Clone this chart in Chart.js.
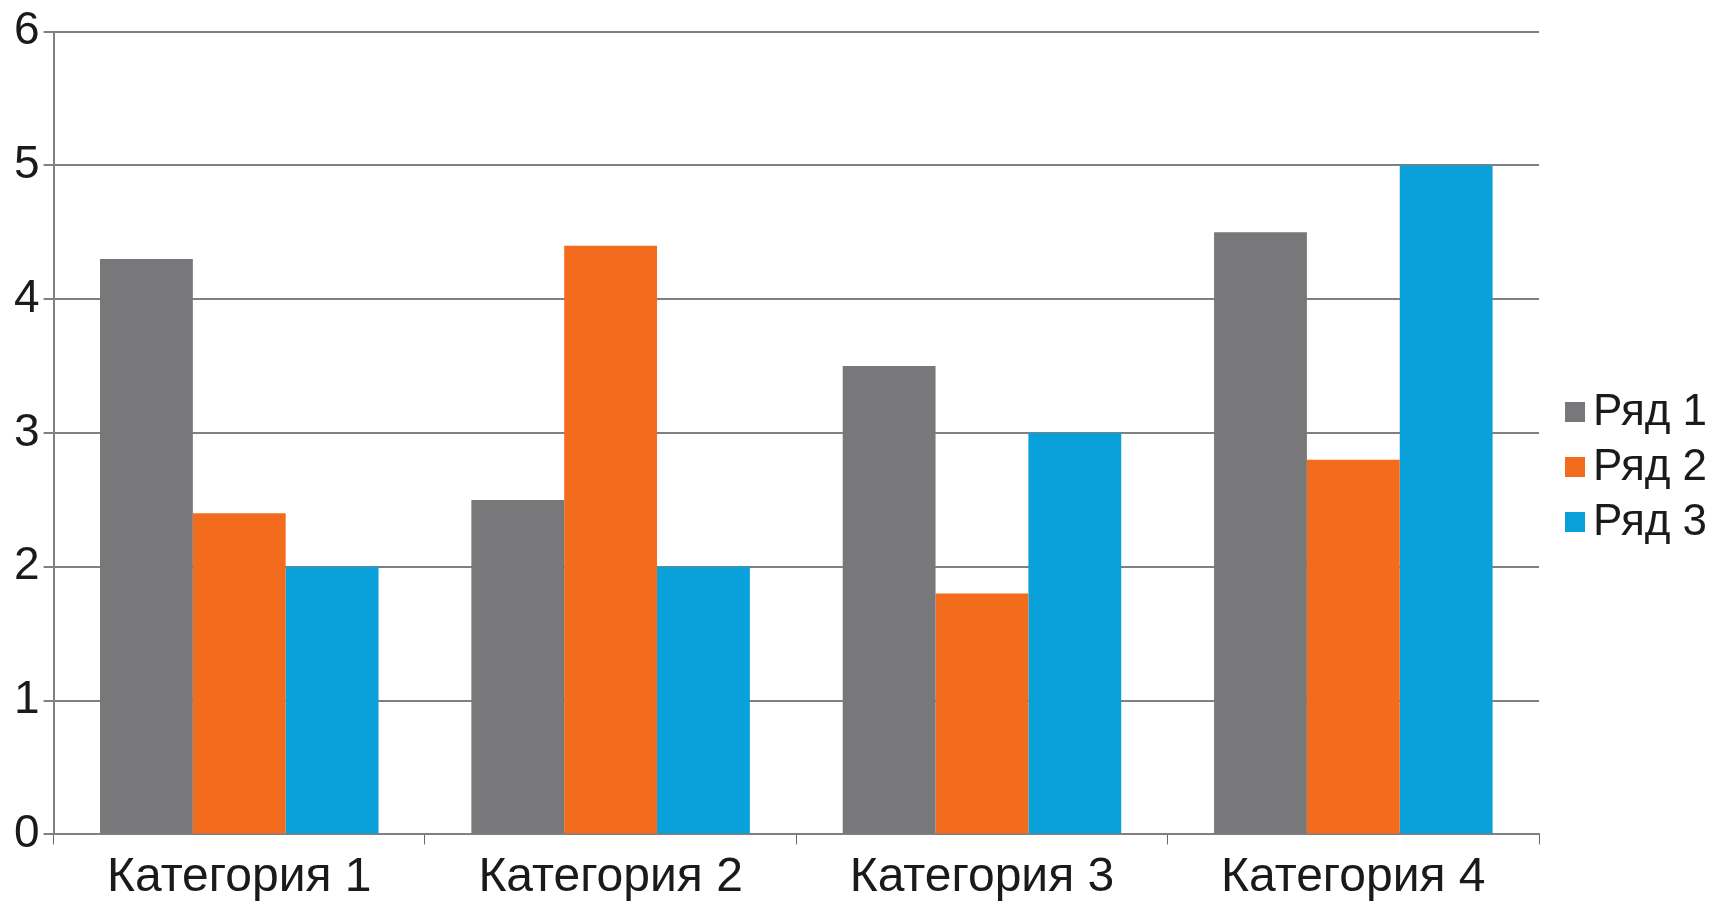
<!DOCTYPE html>
<html lang="ru">
<head>
    <meta charset="UTF-8">
    <title>Ряды по категориям</title>
    <script src="https://cdn.jsdelivr.net/npm/chart.js"></script>
    <style>
        html, body {
            margin: 0;
            padding: 0;
            background: #fff;
        }
        #chart {
            display: block;
        }
    </style>
</head>
<body>
    <canvas id="chart" width="1721" height="902"></canvas>

    <script>
        const categories = ['Категория 1', 'Категория 2', 'Категория 3', 'Категория 4'];
        const seriesNames = ['Ряд 1', 'Ряд 2', 'Ряд 3'];
        const row1 = [4.3, 2.5, 3.5, 4.5];
        const row2 = [2.4, 4.4, 1.8, 2.8];
        const row3 = [2, 2, 3, 5];
        const yTicks = [0, 1, 2, 3, 4, 5, 6];

        const colors = ['#78787b', '#f36b1c', '#0aa0d9'];
        const gridColor = '#808080';
        const textColor = '#1a1a1a';
        const fontFamily = '"Liberation Sans", Arial, sans-serif';

        // legend drawn by hand so the swatch sits close to the text, like the original
        const sideLegend = {
            id: 'sideLegend',
            afterDraw(chart) {
                const c = chart.ctx;
                const sets = chart.data.datasets;
                const rowH = 55;
                const x = chart.chartArea.right + 26;
                let y = chart.height / 2 + 16 - rowH * (sets.length - 1) / 2;
                c.save();
                c.font = '44px ' + fontFamily;
                c.textBaseline = 'middle';
                c.fillStyle = textColor;
                sets.forEach(ds => {
                    c.fillStyle = ds.backgroundColor;
                    c.fillRect(x, y - 10, 20, 20);
                    c.fillStyle = textColor;
                    c.fillText(ds.label, x + 28, y + 1);
                    y += rowH;
                });
                c.restore();
            }
        };

        const ctx = document.getElementById('chart').getContext('2d');
        new Chart(ctx, {
            type: 'bar',
            data: {
                labels: categories,
                datasets: [row1, row2, row3].map((vals, i) => ({
                    label: seriesNames[i],
                    data: vals,
                    backgroundColor: colors[i],
                    borderWidth: 0,
                    barPercentage: 1.0,
                    categoryPercentage: 0.75
                }))
            },
            options: {
                responsive: false,
                animation: false,
                layout: {
                    padding: { top: 4, right: 182, left: 10, bottom: -10 }
                },
                plugins: {
                    legend: { display: false },
                    tooltip: { enabled: false }
                },
                scales: {
                    x: {
                        grid: {
                            display: true,
                            drawOnChartArea: false,
                            drawTicks: true,
                            tickLength: 10,
                            color: '#666',
                            lineWidth: 1,
                            offset: true
                        },
                        border: { display: true, color: gridColor, width: 2 },
                        ticks: {
                            color: textColor,
                            padding: 5,
                            font: { family: fontFamily, size: 48, lineHeight: 1.2 }
                        }
                    },
                    y: {
                        min: 0,
                        max: 6,
                        afterBuildTicks: axis => {
                            axis.ticks = yTicks.map(v => ({ value: v }));
                        },
                        grid: {
                            color: gridColor,
                            lineWidth: 2,
                            tickLength: 10
                        },
                        border: { display: true, color: gridColor, width: 2 },
                        ticks: {
                            color: textColor,
                            padding: 4,
                            font: { family: fontFamily, size: 46, lineHeight: 1.2 }
                        }
                    }
                }
            },
            plugins: [sideLegend]
        });
    </script>
</body>
</html>
